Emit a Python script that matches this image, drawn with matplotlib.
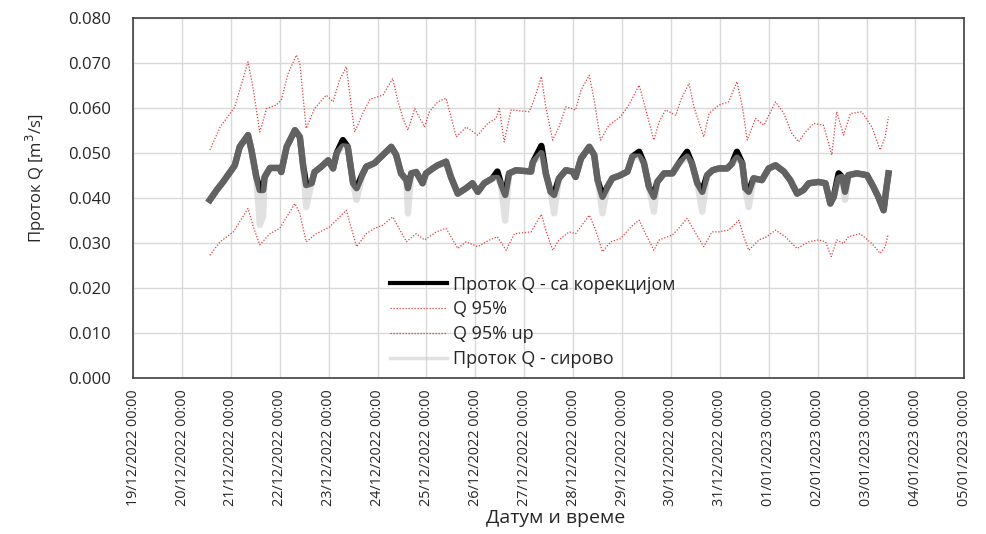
import matplotlib
matplotlib.use('Agg')
import matplotlib.pyplot as plt
import matplotlib.dates as mdates
import pandas as pd
from matplotlib.ticker import FormatStrFormatter, MultipleLocator

plt.rcParams['font.family'] = ['Open Sans', 'DejaVu Sans']

START = pd.Timestamp('2022-12-19 00:00')
END = pd.Timestamp('2023-01-05 00:00')

# time stamps in days after START, flow in m3/s
corr_days = [1.57, 1.71, 1.84, 2.01, 2.08, 2.18, 2.35, 2.42, 2.52, 2.59,
             2.66, 2.69, 2.80, 3.00, 3.03, 3.14, 3.31, 3.41, 3.48, 3.54,
             3.65, 3.71, 3.85, 3.99, 4.09, 4.16, 4.29, 4.39, 4.50, 4.57,
             4.70, 4.77, 4.84, 4.94, 5.11, 5.28, 5.38, 5.48, 5.59, 5.62,
             5.69, 5.79, 5.92, 5.99, 6.13, 6.23, 6.40, 6.50, 6.64, 6.81,
             6.94, 7.05, 7.18, 7.35, 7.45, 7.52, 7.61, 7.69, 7.83, 8.14,
             8.17, 8.35, 8.44, 8.54, 8.61, 8.71, 8.85, 8.99, 9.05, 9.16,
             9.33, 9.43, 9.50, 9.60, 9.70, 9.80, 9.97, 10.11, 10.21, 10.35,
             10.45, 10.55, 10.65, 10.72, 10.86, 11.03, 11.16, 11.33, 11.43, 11.54,
             11.64, 11.74, 11.85, 11.98, 12.15, 12.25, 12.35, 12.46, 12.52, 12.59,
             12.69, 12.86, 13.00, 13.14, 13.31, 13.44, 13.58, 13.71, 13.82, 14.02,
             14.16, 14.26, 14.33, 14.43, 14.50, 14.56, 14.63, 14.80, 15.01, 15.14,
             15.24, 15.35, 15.41, 15.45]

corr_q = [0.0396, 0.0418, 0.0436, 0.0462, 0.0473, 0.0514, 0.0540, 0.0507, 0.0447, 0.0418,
          0.0418, 0.0447, 0.0467, 0.0467, 0.0458, 0.0514, 0.0551, 0.0536, 0.0470, 0.0429,
          0.0433, 0.0458, 0.0470, 0.0484, 0.0466, 0.0499, 0.0529, 0.0514, 0.0433, 0.0422,
          0.0455, 0.0470, 0.0473, 0.0478, 0.0496, 0.0514, 0.0496, 0.0455, 0.0440, 0.0422,
          0.0455, 0.0458, 0.0433, 0.0455, 0.0466, 0.0473, 0.0481, 0.0447, 0.0410, 0.0422,
          0.0433, 0.0414, 0.0433, 0.0444, 0.0459, 0.0433, 0.0407, 0.0455, 0.0462, 0.0459,
          0.0478, 0.0516, 0.0455, 0.0414, 0.0407, 0.0444, 0.0462, 0.0459, 0.0447, 0.0488,
          0.0514, 0.0496, 0.0440, 0.0403, 0.0425, 0.0444, 0.0451, 0.0459, 0.0492, 0.0503,
          0.0477, 0.0425, 0.0403, 0.0436, 0.0455, 0.0455, 0.0477, 0.0503, 0.0477, 0.0433,
          0.0414, 0.0451, 0.0462, 0.0466, 0.0466, 0.0477, 0.0503, 0.0477, 0.0422, 0.0414,
          0.0444, 0.0440, 0.0466, 0.0473, 0.0459, 0.0440, 0.0410, 0.0418, 0.0433, 0.0436,
          0.0433, 0.0388, 0.0403, 0.0455, 0.0447, 0.0414, 0.0451, 0.0455, 0.0451, 0.0425,
          0.0403, 0.0373, 0.0425, 0.0455]

# raw measurement on the same time stamps (before correction)
raw_q = [0.0396, 0.0418, 0.0436, 0.0462, 0.0473, 0.0514, 0.0540, 0.0507, 0.0447, 0.0340,
         0.0360, 0.0447, 0.0467, 0.0467, 0.0458, 0.0514, 0.0551, 0.0536, 0.0470, 0.0380,
         0.0433, 0.0458, 0.0470, 0.0484, 0.0466, 0.0499, 0.0515, 0.0514, 0.0433, 0.0396,
         0.0455, 0.0470, 0.0473, 0.0478, 0.0496, 0.0514, 0.0496, 0.0455, 0.0440, 0.0366,
         0.0455, 0.0458, 0.0433, 0.0455, 0.0466, 0.0473, 0.0481, 0.0447, 0.0410, 0.0422,
         0.0433, 0.0414, 0.0433, 0.0444, 0.0445, 0.0433, 0.0350, 0.0455, 0.0462, 0.0459,
         0.0478, 0.0500, 0.0455, 0.0414, 0.0366, 0.0444, 0.0462, 0.0459, 0.0447, 0.0488,
         0.0514, 0.0496, 0.0440, 0.0366, 0.0425, 0.0444, 0.0451, 0.0459, 0.0492, 0.0492,
         0.0477, 0.0425, 0.0370, 0.0436, 0.0455, 0.0455, 0.0477, 0.0492, 0.0477, 0.0433,
         0.0370, 0.0451, 0.0462, 0.0466, 0.0466, 0.0477, 0.0490, 0.0477, 0.0422, 0.0380,
         0.0444, 0.0440, 0.0466, 0.0473, 0.0459, 0.0440, 0.0410, 0.0418, 0.0433, 0.0436,
         0.0433, 0.0388, 0.0403, 0.0445, 0.0447, 0.0396, 0.0451, 0.0455, 0.0451, 0.0425,
         0.0403, 0.0373, 0.0425, 0.0455]

up_days = [1.57, 1.78, 2.01, 2.08, 2.22, 2.35, 2.46, 2.59, 2.73, 2.93,
           3.03, 3.17, 3.34, 3.41, 3.54, 3.71, 3.95, 4.09, 4.22, 4.36,
           4.53, 4.73, 4.85, 5.11, 5.31, 5.41, 5.52, 5.62, 5.76, 5.96,
           6.06, 6.23, 6.40, 6.61, 6.81, 7.05, 7.25, 7.42, 7.49, 7.59,
           7.73, 8.10, 8.20, 8.35, 8.44, 8.58, 8.71, 8.85, 9.05, 9.16,
           9.33, 9.43, 9.56, 9.73, 9.97, 10.14, 10.35, 10.48, 10.65, 10.76,
           10.89, 11.10, 11.20, 11.37, 11.47, 11.67, 11.78, 11.98, 12.18, 12.35,
           12.46, 12.56, 12.73, 12.90, 13.14, 13.31, 13.47, 13.61, 13.75, 13.92,
           14.12, 14.29, 14.39, 14.53, 14.67, 14.90, 15.11, 15.28, 15.38, 15.45]

up_q = [0.0507, 0.0558, 0.0592, 0.0603, 0.0655, 0.0703, 0.0640, 0.0547, 0.0599, 0.0607,
        0.0618, 0.0677, 0.0718, 0.0699, 0.0555, 0.0599, 0.0629, 0.0614, 0.0662, 0.0692,
        0.0547, 0.0596, 0.0620, 0.0629, 0.0666, 0.0618, 0.0577, 0.0551, 0.0599, 0.0558,
        0.0592, 0.0614, 0.0622, 0.0536, 0.0558, 0.0540, 0.0566, 0.0577, 0.0599, 0.0525,
        0.0596, 0.0592, 0.0618, 0.0670, 0.0603, 0.0529, 0.0558, 0.0603, 0.0596, 0.0640,
        0.0673, 0.0618, 0.0529, 0.0562, 0.0581, 0.0607, 0.0651, 0.0599, 0.0529, 0.0570,
        0.0596, 0.0584, 0.0618, 0.0655, 0.0603, 0.0536, 0.0588, 0.0607, 0.0614, 0.0659,
        0.0603, 0.0529, 0.0577, 0.0562, 0.0614, 0.0588, 0.0544, 0.0525, 0.0547, 0.0566,
        0.0562, 0.0496, 0.0592, 0.0540, 0.0588, 0.0592, 0.0558, 0.0507, 0.0536, 0.0581]

low_days = [1.57, 1.78, 2.05, 2.35, 2.46, 2.59, 2.80, 3.00, 3.31, 3.41,
            3.54, 3.75, 4.02, 4.36, 4.57, 4.77, 4.94, 5.11, 5.31, 5.59,
            5.79, 5.96, 6.20, 6.40, 6.64, 6.81, 7.05, 7.29, 7.45, 7.63,
            7.80, 8.14, 8.35, 8.44, 8.58, 8.71, 8.92, 9.05, 9.33, 9.46,
            9.60, 9.77, 9.97, 10.18, 10.35, 10.48, 10.65, 10.76, 11.03, 11.16,
            11.33, 11.47, 11.67, 11.84, 11.98, 12.18, 12.39, 12.49, 12.59, 12.80,
            12.96, 13.14, 13.34, 13.58, 13.82, 14.02, 14.16, 14.28, 14.39, 14.53,
            14.63, 14.87, 15.11, 15.28, 15.38, 15.44]

low_q = [0.0273, 0.0303, 0.0325, 0.0377, 0.0336, 0.0296, 0.0321, 0.0333, 0.0388, 0.0366,
         0.0303, 0.0321, 0.0336, 0.0373, 0.0292, 0.0321, 0.0333, 0.0340, 0.0358, 0.0303,
         0.0321, 0.0307, 0.0325, 0.0333, 0.0288, 0.0303, 0.0292, 0.0307, 0.0314, 0.0284,
         0.0321, 0.0325, 0.0364, 0.0329, 0.0284, 0.0307, 0.0325, 0.0321, 0.0362, 0.0329,
         0.0281, 0.0303, 0.0310, 0.0336, 0.0351, 0.0321, 0.0284, 0.0307, 0.0318, 0.0333,
         0.0355, 0.0329, 0.0292, 0.0325, 0.0325, 0.0329, 0.0351, 0.0314, 0.0284, 0.0307,
         0.0314, 0.0329, 0.0314, 0.0288, 0.0303, 0.0307, 0.0303, 0.0270, 0.0307, 0.0299,
         0.0314, 0.0321, 0.0299, 0.0277, 0.0292, 0.0318]


def to_time(days):
    return START + pd.to_timedelta(days, unit='D')


corr_t = to_time(corr_days)
up_t = to_time(up_days)
low_t = to_time(low_days)

fig = plt.figure(figsize=(9.86, 5.34), dpi=100)
ax = fig.add_axes([0.135, 0.292, 0.843, 0.674])

red = '#e03c3c'
ax.plot(corr_t, corr_q, color='black', lw=4.6, solid_joinstyle='round',
        label='Проток Q - са корекцијом', zorder=3)
ax.plot(low_t, low_q, color=red, lw=0.9, ls=(0, (1, 1.4)),
        label='Q 95%', zorder=2)
ax.plot(up_t, up_q, color=red, lw=0.9, ls=(0, (1, 1.4)),
        label='Q 95% up', zorder=2)
ax.plot(corr_t, raw_q, color='#c4c4c4', lw=4.6, alpha=0.5,
        solid_joinstyle='round', label='Проток Q - сирово', zorder=4)

ax.set_xlim(START, END)
ax.set_ylim(0, 0.08)
ax.yaxis.set_major_locator(MultipleLocator(0.01))
ax.yaxis.set_major_formatter(FormatStrFormatter('%.3f'))
ax.xaxis.set_major_locator(mdates.DayLocator())
ax.xaxis.set_major_formatter(mdates.DateFormatter('%d/%m/%Y %H:%M'))

ax.grid(True, color='#d9d9d9', lw=1)
ax.set_axisbelow(True)
for s in ax.spines.values():
    s.set_color('#404040')
    s.set_linewidth(1.2)

ax.tick_params(axis='both', length=0, colors='#262626')
ax.tick_params(axis='y', labelsize=12, pad=16)
ax.tick_params(axis='x', labelsize=10.4, pad=8)
plt.setp(ax.get_xticklabels(), rotation=90)

ax.set_ylabel('Проток Q [m$^3$/s]', fontsize=12, color='#262626')
ax.yaxis.set_label_coords(-0.102, 0.555)
ax.set_xlabel('Датум и време', fontsize=14, color='#262626')
ax.xaxis.set_label_coords(0.508, -0.365)

leg = ax.legend(loc='upper left', bbox_to_anchor=(0.30, 0.305), frameon=False,
                fontsize=13, handlelength=3.2, handletextpad=0.3,
                labelspacing=0.38, borderaxespad=0)
leg.get_lines()[0].set_linewidth(3)
leg.get_lines()[3].set_linewidth(2.5)
for txt in leg.get_texts():
    txt.set_color('#262626')

fig.savefig('out.png', dpi=100)
